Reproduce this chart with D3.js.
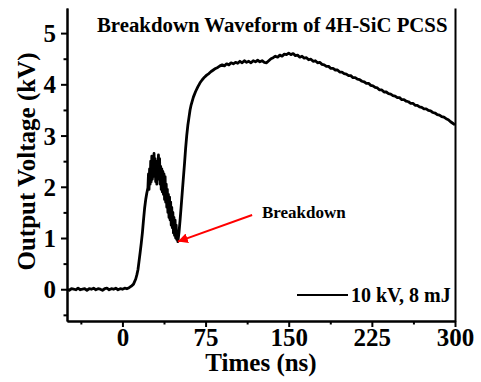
<!DOCTYPE html>
<html><head><meta charset="utf-8">
<script src="https://cdn.jsdelivr.net/npm/d3@7/dist/d3.min.js"></script>
<style>body{margin:0;background:#fff}svg{display:block}</style>
</head><body><svg id="c" width="481" height="382"></svg>
<script>
const times = [-50,-48,-46,-44,-42,-40,-38,-36,-34,-32,-30,-28,-26,-24,-22,-20,-18,-16,-14,-12,-10,-8,-6,-4,-2,0,2,4,6,8,10,12,13,14,15,16,17,18,19,20,21,22,23,
23.5,24,24.5,25,25.5,26,26.5,27,27.5,28,28.5,29,29.5,30,30.5,31,31.5,32,32.5,33,33.5,34,34.5,35,35.5,36,36.5,37,37.5,38,38.5,39,39.5,40,40.5,41,41.5,42,42.5,43,43.5,44,44.5,45,45.5,46,46.5,47,47.5,48,48.5,49,49.5,50,
51,52,53,54,55,56,57,58,59,60,61,62,64,66,68,70,72,74,76,78,80,82,84,86,
88,90,92,94,96,98,100,102,104,106,108,110,112,114,116,118,120,122,124,126,128,130,132,134,136,138,140,142,144,146,148,150,152,154,156,158,160,162,164,166,168,170,172,174,176,178,180,182,184,186,188,190,192,194,196,198,200,202,204,206,208,210,212,214,216,218,220,222,224,226,228,230,232,234,236,238,240,242,244,246,248,250,252,254,256,258,260,262,264,266,268,270,272,274,276,278,280,282,284,286,288,290,292,294,296,298,300];
const volts = [0.00,-0.02,0.01,0.00,-0.01,0.02,-0.01,0.00,0.01,-0.02,0.01,0.00,0.02,-0.01,0.01,0.00,-0.02,0.01,0.02,-0.01,0.01,0.00,0.02,-0.01,0.01,0.00,0.02,0.01,0.03,0.06,0.10,0.20,0.28,0.38,0.55,0.72,0.90,1.10,1.35,1.58,1.75,1.88,1.98,
2.25,1.95,2.35,2.05,2.50,2.10,2.60,2.15,2.45,2.25,2.65,2.20,2.55,2.10,2.40,2.05,2.50,2.15,2.62,2.20,2.55,2.05,2.40,1.95,2.35,1.90,2.30,1.85,2.25,1.75,2.20,1.70,2.05,1.60,1.95,1.50,1.85,1.40,1.80,1.35,1.70,1.25,1.60,1.20,1.50,1.10,1.40,1.05,1.35,1.00,1.25,0.97,1.10,0.93,
1.10,1.35,1.62,1.90,2.18,2.45,2.75,3.00,3.20,3.35,3.50,3.60,3.75,3.86,3.95,4.03,4.09,4.14,4.18,4.21,4.25,4.28,4.31,4.33,
4.36,4.38,4.36,4.40,4.38,4.42,4.40,4.43,4.41,4.45,4.42,4.46,4.43,4.45,4.42,4.46,4.44,4.47,4.44,4.46,4.43,4.42,4.46,4.50,4.52,4.55,4.53,4.57,4.55,4.59,4.58,4.61,4.58,4.60,4.56,4.57,4.53,4.55,4.51,4.52,4.48,4.49,4.45,4.46,4.42,4.43,4.39,4.38,4.35,4.35,4.31,4.31,4.28,4.28,4.24,4.24,4.21,4.20,4.17,4.17,4.13,4.13,4.10,4.09,4.06,4.05,4.02,4.02,3.98,3.97,3.94,3.93,3.89,3.89,3.85,3.85,3.82,3.81,3.78,3.77,3.74,3.74,3.70,3.70,3.67,3.66,3.63,3.63,3.59,3.59,3.56,3.55,3.52,3.52,3.49,3.48,3.45,3.44,3.41,3.40,3.37,3.36,3.33,3.31,3.27,3.24,3.21];
const xTicks = [0, 75, 150, 225, 300];
const xMinor = [-37.5, 37.5, 112.5, 187.5, 262.5];
const yTicks = [0, 1, 2, 3, 4, 5];
const yMinor = [-0.5, 0.5, 1.5, 2.5, 3.5, 4.5];
const titleText = "Breakdown Waveform of 4H-SiC PCSS";
const legendText = "10 kV, 8 mJ";
const annoText = "Breakdown";
const annoFrom = [117, 1.45];
const annoTo = [50, 0.93];

const svg = d3.select("#c");
const L = 67, R = 455, T = 8, B = 321;
const x = d3.scaleLinear().domain([-50, 300]).range([L, R]);
const y = d3.scaleLinear().domain([-0.62, 5.49]).range([B, T]);
const FONT = "'Liberation Serif','Times New Roman',serif";

// data line
const data = times.map((t, i) => [t, volts[i]]);
svg.append("path").datum(data)
  .attr("fill", "none").attr("stroke", "#000").attr("stroke-width", 2.8)
  .attr("stroke-linejoin", "round")
  .attr("d", d3.line().x(d => x(d[0])).y(d => y(d[1])));

// axes
const xAxis = svg.append("g").attr("transform", `translate(0,${B})`)
  .call(d3.axisBottom(x).tickValues(xTicks).tickSize(6).tickSizeOuter(0).tickPadding(1).tickFormat(d3.format("d")));
const xAxisMinor = svg.append("g").attr("transform", `translate(0,${B})`)
  .call(d3.axisBottom(x).tickValues(xMinor).tickSize(3.5).tickSizeOuter(0).tickFormat(""));
const yAxis = svg.append("g").attr("transform", `translate(${L},0)`)
  .call(d3.axisLeft(y).tickValues(yTicks).tickSize(6).tickSizeOuter(0).tickPadding(5).tickFormat(d3.format("d")));
const yAxisMinor = svg.append("g").attr("transform", `translate(${L},0)`)
  .call(d3.axisLeft(y).tickValues(yMinor).tickSize(3.5).tickSizeOuter(0).tickFormat(""));
const yRight = svg.append("g").attr("transform", `translate(${R},0)`)
  .call(d3.axisRight(y).tickValues([]).tickSizeOuter(0));
[xAxis, xAxisMinor, yAxis, yAxisMinor, yRight].forEach(g => {
  g.selectAll("path.domain").attr("stroke", "#000").attr("stroke-width", 2);
  g.selectAll(".tick line").attr("stroke", "#000").attr("stroke-width", 2);
  g.selectAll("text").attr("font-family", FONT).attr("font-weight", "bold").attr("font-size", 25).attr("fill", "#000");
});
xAxis.selectAll("text").attr("dy", "0.71em");
yAxis.selectAll("text").attr("dy", "0.34em");

// axis titles
svg.append("text").attr("x", (L + R) / 2).attr("y", 371).attr("text-anchor", "middle")
  .attr("font-family", FONT).attr("font-weight", "bold").attr("font-size", 25).text("Times (ns)");
svg.append("text").attr("transform", `translate(35,${(48 + 275) / 2}) rotate(-90)`).attr("text-anchor", "middle")
  .attr("font-family", FONT).attr("font-weight", "bold").attr("font-size", 25).text("Output Voltage (kV)");

// title
svg.append("text").attr("x", 97).attr("y", 31.5)
  .attr("font-family", FONT).attr("font-weight", "bold").attr("font-size", 20.8).text(titleText);

// legend
svg.append("line").attr("x1", 297).attr("x2", 348).attr("y1", 295).attr("y2", 295)
  .attr("stroke", "#000").attr("stroke-width", 2.2);
svg.append("text").attr("x", 351).attr("y", 302)
  .attr("font-family", FONT).attr("font-weight", "bold").attr("font-size", 20).text(legendText);

// annotation arrow
svg.append("defs").append("marker").attr("id", "ah").attr("viewBox", "0 0 10 10")
  .attr("refX", 10).attr("refY", 5).attr("markerWidth", 5).attr("markerHeight", 5)
  .attr("orient", "auto").attr("markerUnits", "strokeWidth")
  .append("path").attr("d", "M0,0 L10,5 L0,10 z").attr("fill", "#f00");
svg.append("line").attr("x1", x(annoFrom[0])).attr("y1", y(annoFrom[1]))
  .attr("x2", x(annoTo[0])).attr("y2", y(annoTo[1]))
  .attr("stroke", "#f00").attr("stroke-width", 2).attr("marker-end", "url(#ah)");
svg.append("text").attr("x", 262).attr("y", 218)
  .attr("font-family", FONT).attr("font-weight", "bold").attr("font-size", 17).text(annoText);
</script></body></html>
